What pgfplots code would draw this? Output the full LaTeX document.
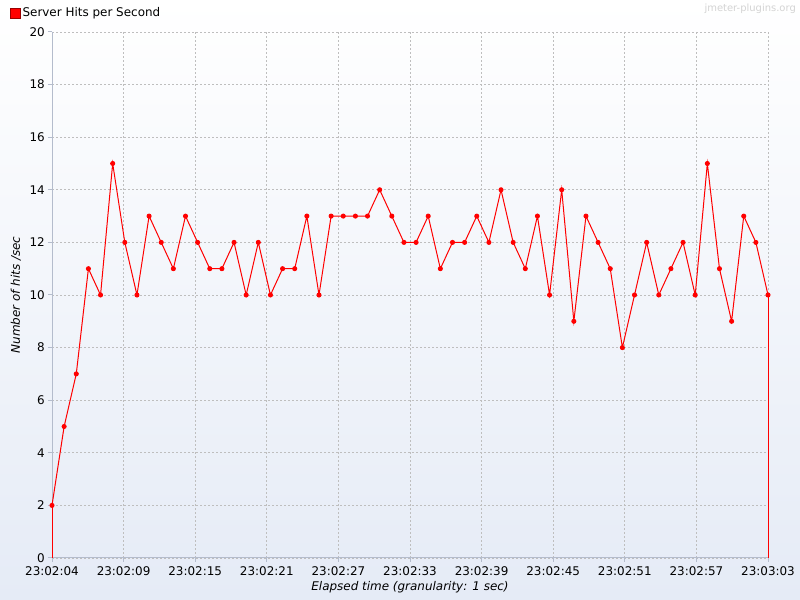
\documentclass[border=0pt]{standalone}
\usepackage{pgfplots}
\pgfplotsset{compat=1.18}
\usepackage{pgfplotstable}
\usepackage{fontspec}
\setmainfont{DejaVu Sans}
\definecolor{bgbottom}{RGB}{229,235,246}
\definecolor{axisgray}{RGB}{180,188,204}
\definecolor{gridgray}{RGB}{190,190,190}
\definecolor{wm}{RGB}{212,212,212}
\pgfplotstableread{
t v
0 2
1 5
2 7
3 11
4 10
5 15
6 12
7 10
8 13
9 12
10 11
11 13
12 12
13 11
14 11
15 12
16 10
17 12
18 10
19 11
20 11
21 13
22 10
23 13
24 13
25 13
26 13
27 14
28 13
29 12
30 12
31 13
32 11
33 12
34 12
35 13
36 12
37 14
38 12
39 11
40 13
41 10
42 14
43 9
44 13
45 12
46 11
47 8
48 10
49 12
50 10
51 11
52 12
53 10
54 15
55 11
56 9
57 13
58 12
59 10
}\hits
\begin{document}
\begin{tikzpicture}[x=1bp,y=1bp]
\shade[top color=white,bottom color=bgbottom] (0,0) rectangle (800,600);
\node[anchor=north east, inner sep=0pt, text=wm, font=\fontsize{10}{12}\selectfont] at (796,596) {jmeter-plugins.org};
\begin{axis}[
  at={(52bp,42bp)}, anchor=south west,
  scale only axis, width=716bp, height=526bp,
  xmin=0, xmax=59, ymin=0, ymax=20,
  clip=false,
  axis x line*=bottom, axis y line*=left,
  axis line style={axisgray, line width=1bp},
  tick style={axisgray, line width=1bp},
  tick align=outside, major tick length=4bp,
  xtick={0,5.9,11.8,17.7,23.6,29.5,35.4,41.3,47.2,53.1,59},
  xticklabels={23:02:04,23:02:09,23:02:15,23:02:21,23:02:27,23:02:33,23:02:39,23:02:45,23:02:51,23:02:57,23:03:03},
  ytick={0,2,...,20},
  grid=major,
  major grid style={gridgray, dash pattern=on 2bp off 2bp, line width=0.8bp},
  /pgf/number format/assume math mode=true,
  ticklabel style={font=\fontsize{12}{14}\selectfont, text=black},
  yticklabel style={anchor=east, inner sep=0pt, xshift=-3bp},
  xticklabel style={anchor=north, inner sep=0pt, yshift=-4bp},
  xlabel={Elapsed time (granularity: 1 sec)},
  ylabel={Number of hits /sec},
  label style={font=\itshape\fontsize{12}{14}\selectfont},
  xlabel style={at={(axis description cs:0.5,-0.0627)}, anchor=base},
  ylabel style={at={(axis description cs:-0.0503,0.5)}, anchor=center},
  legend style={at={(axis description cs:-0.0587,1.0361)}, anchor=west, draw=none, fill=none, inner sep=0pt, outer sep=0pt, font=\fontsize{12}{14}\selectfont, /tikz/every even column/.style={column sep=3bp}},
  legend cell align=left,
]
\addplot[red, line width=1bp, forget plot] coordinates {(0,0) (0,2)};
\addplot[red, line width=1bp, forget plot] coordinates {(59,10) (59,0)};
\addplot[red, line width=1bp, mark=*, mark size=2bp,
  legend image code/.code={\draw[fill=red, draw=red!60!black, line width=0.6bp] (0bp,-5bp) rectangle (10bp,5bp);}]
  table[x=t, y=v] {\hits};
\addlegendentry{Server Hits per Second}
\end{axis}
\end{tikzpicture}
\end{document}
